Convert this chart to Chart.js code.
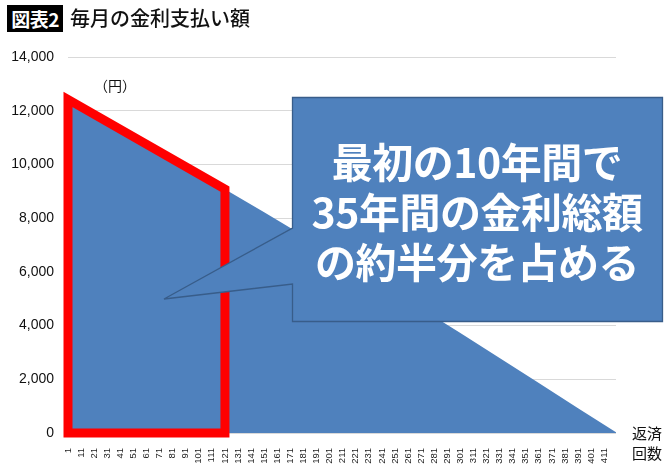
<!DOCTYPE html>
<html><head><meta charset="utf-8">
<script src="https://cdn.jsdelivr.net/npm/chart.js@4"></script>
<style>
html,body{margin:0;padding:0;background:#fff;}
#wrap{position:relative;width:670px;height:468px;overflow:hidden;font-family:"Noto Sans CJK JP","Noto Sans",sans-serif;}
#c{position:absolute;left:0;top:0;}
.badge{position:absolute;left:7px;top:5px;width:56px;height:27px;background:#000;color:#fff;font-weight:bold;font-size:19px;line-height:27px;text-align:center;letter-spacing:-0.5px;}
.title{position:absolute;left:70px;top:4px;font-size:20px;line-height:28px;color:#111;font-weight:500;}
.unit{position:absolute;left:94px;top:75px;font-size:14px;line-height:20px;color:#111;}
.xname{position:absolute;left:632px;top:423px;font-size:15px;line-height:20px;color:#111;}
svg{position:absolute;left:0;top:0;}
.callout{position:absolute;left:292px;top:135px;width:370px;text-align:center;color:#fff;font-weight:bold;font-size:41px;line-height:50px;letter-spacing:-0.5px;}
</style></head>
<body>
<div id="wrap">
<canvas id="c" width="670" height="468"></canvas>
<div class="badge">図表2</div>
<div class="title">毎月の金利支払い額</div>
<div class="unit">（円）</div>
<div class="xname">返済<br>回数</div>
<svg width="670" height="468"><path d="M292.5,97.5 L662.5,97.5 L662.5,321.5 L292.5,321.5 L292.5,284 L164,299 L292.5,228 Z" fill="#4F81BD" stroke="#385D8A" stroke-width="1.3"/></svg>
<div class="callout">最初の10年間で<br>35年間の金利総額<br>の約半分を占める</div>
</div>
<script>
// Payment number (返済回数) and monthly interest (円)
const paymentNo = [1, 31, 61, 91, 121, 151, 181, 211, 241, 271, 301, 331, 361, 391, 420];
const interestYen = [12420, 11600, 10770, 9930, 9080, 8220, 7340, 6450, 5550, 4640, 3720, 2790, 1860, 920, 30];
// Category tick labels on the x axis
const xTickLabels = [1,11,21,31,41,51,61,71,81,91,101,111,121,131,141,151,161,171,181,191,201,211,221,231,241,251,261,271,281,291,301,311,321,331,341,351,361,371,381,391,401,411];
const yTicks = [0, 2000, 4000, 6000, 8000, 10000, 12000, 14000];
// Highlighted range: first 10 years (payments 1–121)
const highlightFrom = 1;
const highlightTo = 121;

const areaPts = paymentNo.map((x, i) => ({x, y: interestYen[i]}));
const vFrom = interestYen[paymentNo.indexOf(highlightFrom)];
const vTo = interestYen[paymentNo.indexOf(highlightTo)];
const redPts = [
  {x: highlightFrom, y: 0}, {x: highlightFrom, y: vFrom},
  {x: highlightTo, y: vTo}, {x: highlightTo, y: 0}, {x: highlightFrom, y: 0}
];

new Chart(document.getElementById('c'), {
  type: 'line',
  data: {
    datasets: [
      {
        data: redPts, borderColor: '#FF0000', borderWidth: 9, fill: false,
        pointRadius: 0, tension: 0, borderJoinStyle: 'miter', borderCapStyle: 'square',
        clip: false, order: 0
      },
      {
        data: areaPts, borderWidth: 0, borderColor: '#4F81BD', backgroundColor: '#4F81BD',
        fill: 'origin', pointRadius: 0, tension: 0, order: 1
      }
    ]
  },
  options: {
    responsive: false, animation: false, devicePixelRatio: 1,
    layout: {padding: {top: 57, right: 54, left: 0, bottom: 0}},
    plugins: {legend: {display: false}, tooltip: {enabled: false}},
    scales: {
      x: {
        type: 'linear', min: 1, max: 420,
        afterBuildTicks: s => { s.ticks = xTickLabels.map(v => ({value: v})); },
        afterFit: s => { s.height = 35; },
        grid: {display: false}, border: {display: false},
        ticks: {autoSkip: false, maxRotation: 90, minRotation: 90, padding: 7,
          font: {family: 'Liberation Sans, Arial', size: 9.5}, color: '#222'}
      },
      y: {
        min: 0, max: 14000,
        afterBuildTicks: s => { s.ticks = yTicks.map(v => ({value: v})); },
        afterFit: s => { s.width = 68; },
        grid: {color: '#D9D9D9', drawTicks: false, lineWidth: 1},
        border: {display: false},
        ticks: {padding: 14, font: {family: 'Liberation Sans, Arial', size: 14}, color: '#111',
          callback: v => v.toLocaleString('en-US')}
      }
    }
  }
});
</script>
</body></html>
